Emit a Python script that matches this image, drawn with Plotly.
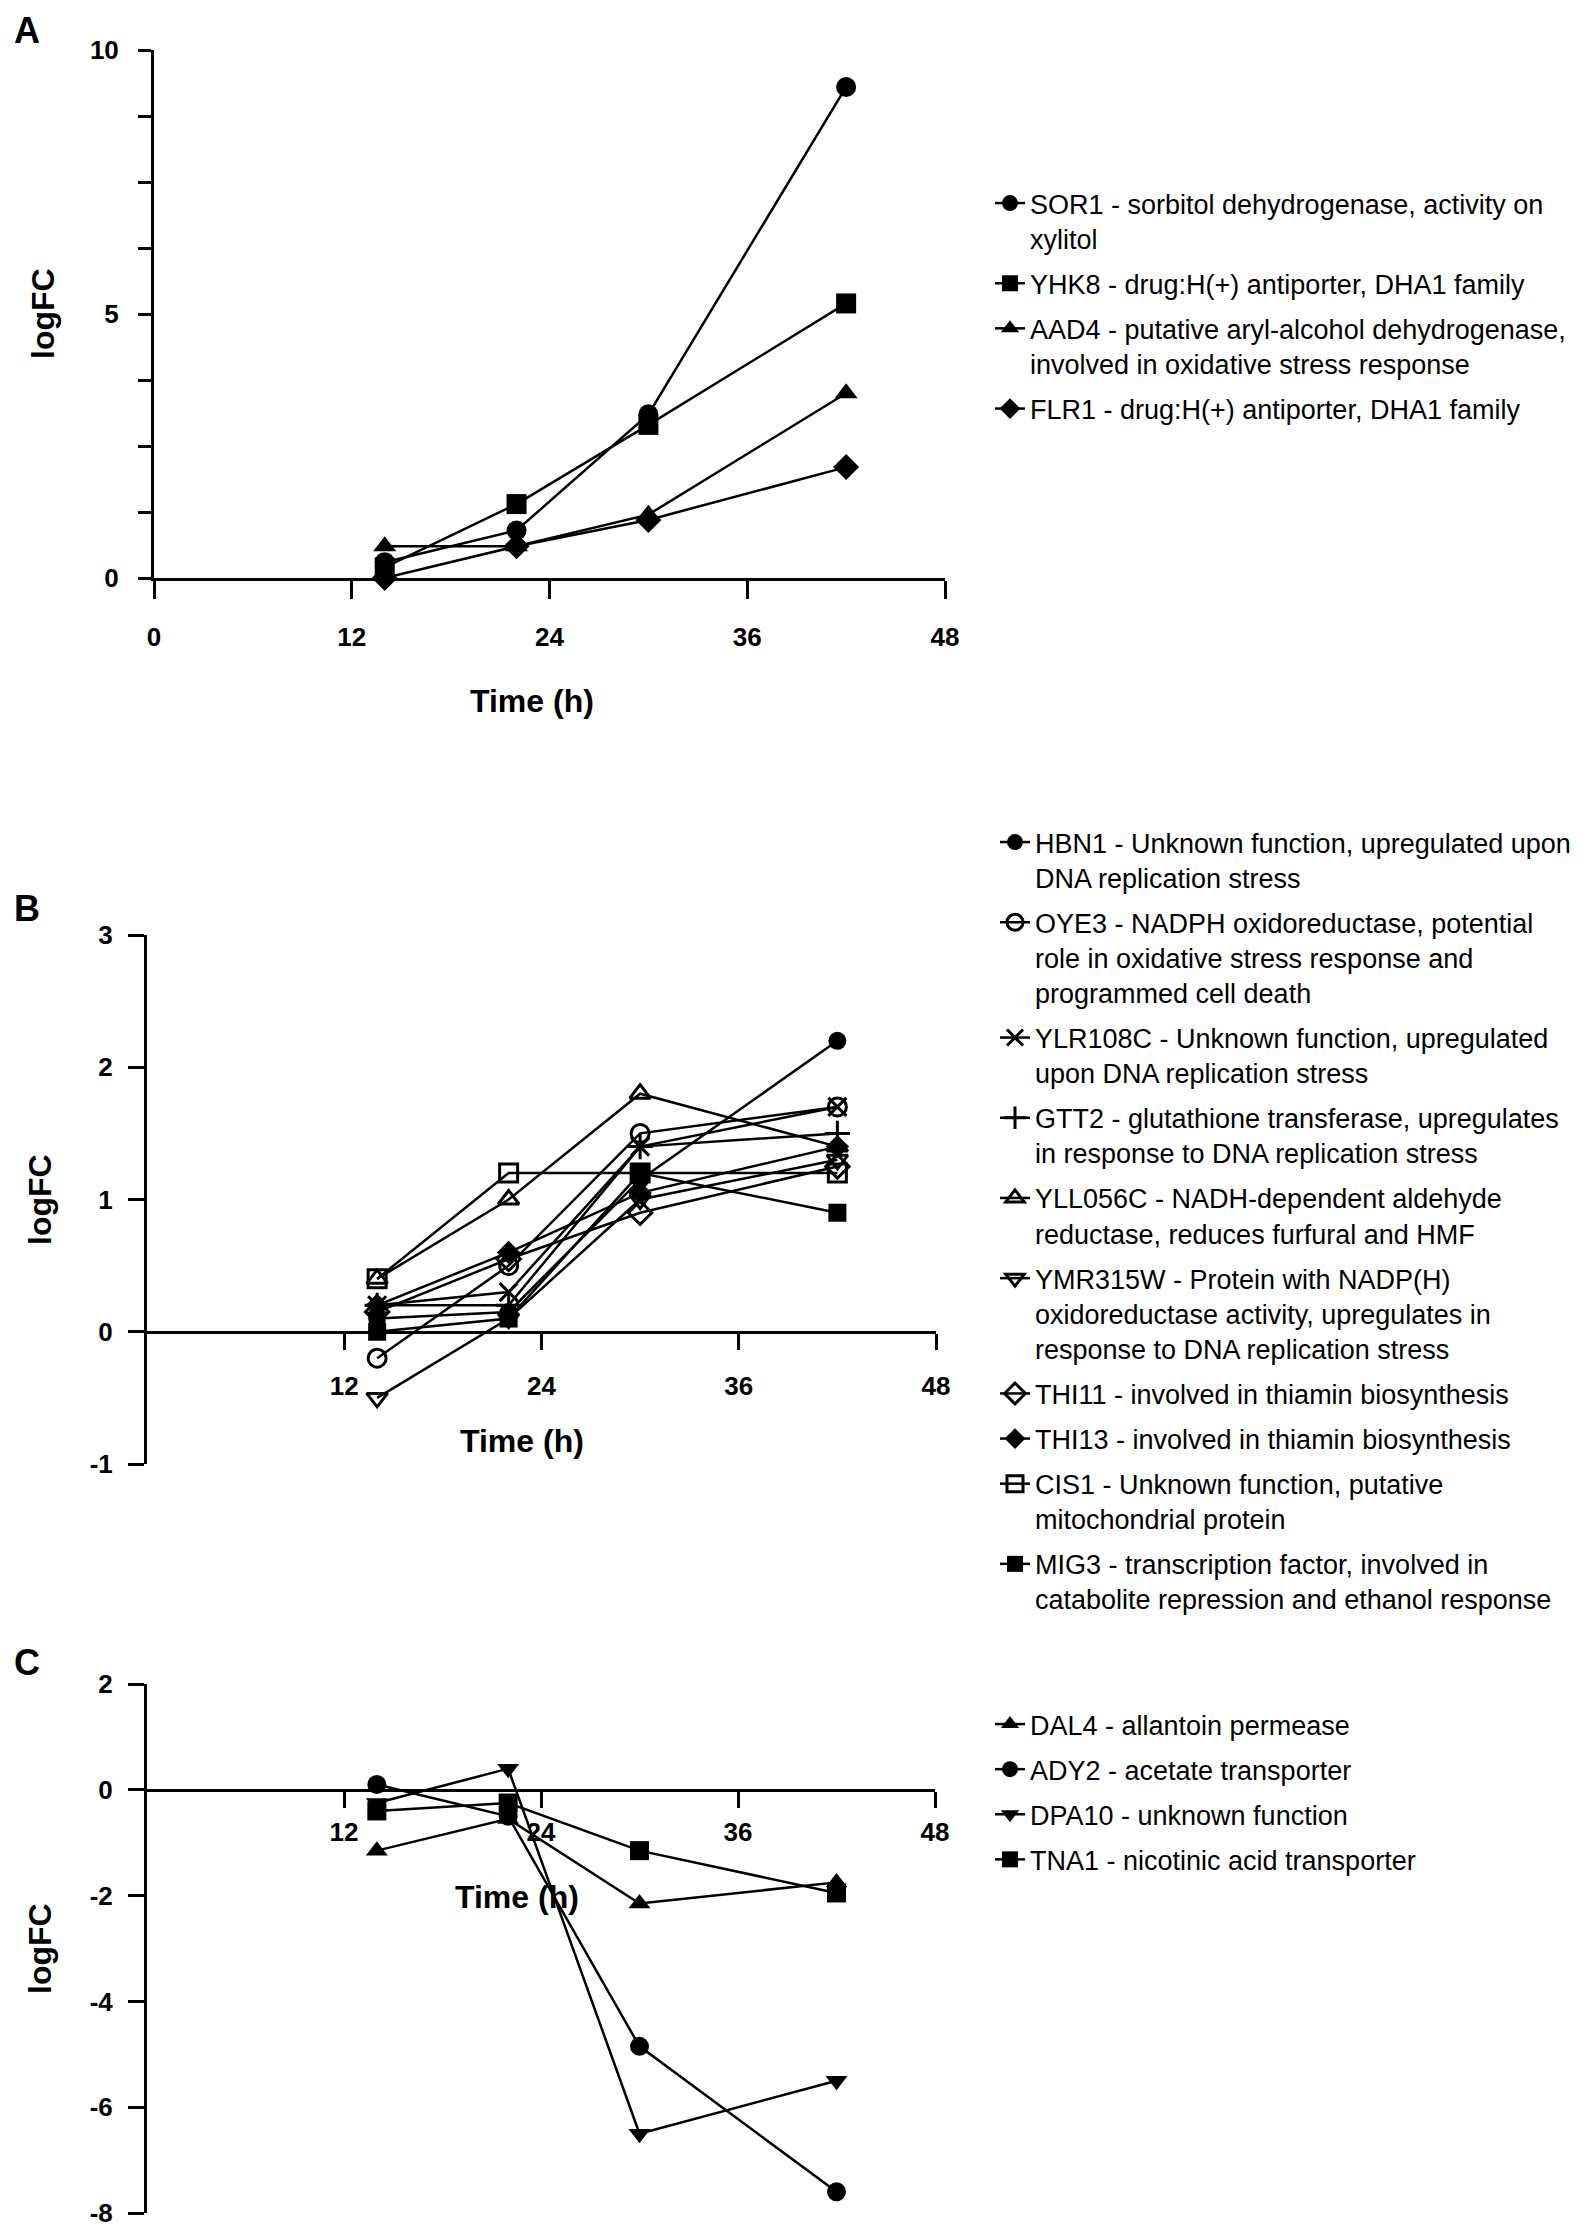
import plotly.graph_objects as go

# page size and default body margin of the written html page
PAGE_W, PAGE_H = 1594, 2237
BODY = 8
W, H = PAGE_W - 2 * BODY, PAGE_H - 2 * BODY

# ---------------- data ----------------
time_h = [14, 22, 30, 42]

# Panel A
a_labels = [
    "SOR1 - sorbitol dehydrogenase, activity on<br>xylitol",
    "YHK8 - drug:H(+) antiporter, DHA1 family",
    "AAD4 - putative aryl-alcohol dehydrogenase,<br>involved in oxidative stress response",
    "FLR1 - drug:H(+) antiporter, DHA1 family",
]
a_symbols = ["circle", "square", "triangle-up", "diamond"]
a_sor1 = [0.3, 0.9, 3.1, 9.3]
a_yhk8 = [0.2, 1.4, 2.9, 5.2]
a_aad4 = [0.6, 0.6, 1.2, 3.5]
a_flr1 = [0.0, 0.6, 1.1, 2.1]
a_values = [a_sor1, a_yhk8, a_aad4, a_flr1]

# Panel B
b_labels = [
    "HBN1 - Unknown function, upregulated upon<br>DNA replication stress",
    "OYE3 - NADPH oxidoreductase, potential<br>role in oxidative stress response and<br>programmed cell death",
    "YLR108C - Unknown function, upregulated<br>upon DNA replication stress",
    "GTT2 - glutathione transferase, upregulates<br>in response to DNA replication stress",
    "YLL056C - NADH-dependent aldehyde<br>reductase, reduces furfural and HMF",
    "YMR315W - Protein with NADP(H)<br>oxidoreductase activity, upregulates in<br>response to DNA replication stress",
    "THI11 - involved in thiamin biosynthesis",
    "THI13 - involved in thiamin biosynthesis",
    "CIS1 - Unknown function, putative<br>mitochondrial protein",
    "MIG3 - transcription factor, involved in<br>catabolite repression and ethanol response",
]
b_symbols = ["circle", "circle-open", "x-thin-open", "cross-thin-open", "triangle-up-open",
             "triangle-down-open", "diamond-open", "diamond", "square-open", "square"]
b_hbn1 = [0.1, 0.15, 1.15, 2.2]
b_oye3 = [-0.2, 0.5, 1.5, 1.7]
b_ylr108c = [0.2, 0.3, 1.4, 1.7]
b_gtt2 = [0.2, 0.2, 1.4, 1.5]
b_yll056c = [0.4, 1.0, 1.8, 1.4]
b_ymr315w = [-0.5, 0.1, 1.0, 1.3]
b_thi11 = [0.15, 0.55, 0.9, 1.25]
b_thi13 = [0.2, 0.6, 1.05, 1.4]
b_cis1 = [0.4, 1.2, 1.2, 1.2]
b_mig3 = [0.0, 0.1, 1.2, 0.9]
b_values = [b_hbn1, b_oye3, b_ylr108c, b_gtt2, b_yll056c,
            b_ymr315w, b_thi11, b_thi13, b_cis1, b_mig3]

# Panel C
c_labels = [
    "DAL4 - allantoin permease",
    "ADY2 - acetate transporter",
    "DPA10 - unknown function",
    "TNA1 - nicotinic acid transporter",
]
c_symbols = ["triangle-up", "circle", "triangle-down", "square"]
c_dal4 = [-1.15, -0.55, -2.15, -1.75]
c_ady2 = [0.1, -0.5, -4.85, -7.6]
c_dpa10 = [-0.25, 0.4, -6.5, -5.5]
c_tna1 = [-0.4, -0.25, -1.15, -1.95]
c_values = [c_dal4, c_ady2, c_dpa10, c_tna1]

# tick values / labels
xa_ticks = [0, 12, 24, 36, 48]
xbc_ticks = [12, 24, 36, 48]
ya_ticks = [0, 5, 10]
yb_ticks = [-1, 0, 1, 2, 3]
yc_ticks = [-8, -6, -4, -2, 0, 2]
ya_minor = [1.25, 2.5, 3.75, 6.25, 7.5, 8.75]


def tick_text(vals):
    return [str(v) for v in vals]


# ---------------- layout helpers (page pixels -> paper fractions) ----------------
def px(x):
    return (x - BODY) / W


def py(y):
    return 1 - (y - BODY) / H


def xdom(left, right):
    return [px(left), px(right)]


def ydom(top, bottom):
    return [py(bottom), py(top)]


def zero_pos(dom, rng):
    return dom[0] + (0 - rng[0]) / (rng[1] - rng[0]) * (dom[1] - dom[0])


FONT = "Liberation Sans, Arial, Helvetica, sans-serif"
TICKFONT = dict(family=FONT, size=26, color="black", weight=700)

axis_common = dict(
    showline=True, linewidth=3, linecolor="black", mirror=False,
    ticks="outside", tickwidth=3, ticklen=13, tickcolor="black",
    showgrid=False, zeroline=False, tickfont=TICKFONT, fixedrange=True,
)

xa_dom = xdom(154, 945)
ya_dom = ydom(50, 578)
xb_dom = xdom(147, 936)
yb_dom = ydom(935, 1464)
xc_dom = xdom(147, 935)
yc_dom = ydom(1684, 2213)

xa_rng = [0, 48]
ya_rng = [0, 10]
yb_rng = [-1, 3]
yc_rng = [-8, 2]

fig = go.Figure()

panels = [
    (a_labels, a_symbols, a_values, "x", "y", "legend", 20),
    (b_labels, b_symbols, b_values, "x2", "y2", "legend2", 18),
    (c_labels, c_symbols, c_values, "x3", "y3", "legend3", 19),
]
for labels, symbols, values, xr, yr, lg, msize in panels:
    for i, (lab, sym, vals) in enumerate(zip(labels, symbols, values)):
        fig.add_trace(go.Scatter(
            x=time_h, y=vals, name=lab, xaxis=xr, yaxis=yr, legend=lg,
            legendgroup=f"{lg}_{i}",
            mode="lines+markers", cliponaxis=False,
            line=dict(color="black", width=2.5),
            marker=dict(symbol=sym, size=msize, color="black",
                        line=dict(color="black", width=3 if "open" in sym else 0)),
        ))

fig.update_layout(
    width=W, height=H, margin=dict(l=0, r=0, t=0, b=0, autoexpand=False),
    paper_bgcolor="white", plot_bgcolor="white",
    font=dict(family=FONT, color="black"),
    showlegend=True,
    xaxis=dict(axis_common, domain=xa_dom, anchor="y", range=xa_rng,
               tickvals=xa_ticks, ticktext=tick_text(xa_ticks),
               ticklen=18, ticklabelstandoff=16),
    yaxis=dict(axis_common, domain=ya_dom, anchor="x", range=ya_rng,
               tickvals=ya_ticks, ticktext=tick_text(ya_ticks), ticklabelstandoff=14,
               minor=dict(tickvals=ya_minor, ticks="outside", ticklen=13,
                          tickwidth=3, tickcolor="black", showgrid=False)),
    xaxis2=dict(axis_common, domain=xb_dom, anchor="free",
                position=zero_pos(yb_dom, yb_rng), range=xa_rng,
                tickvals=xbc_ticks, ticktext=tick_text(xbc_ticks),
                ticklen=16, ticklabelstandoff=14),
    yaxis2=dict(axis_common, domain=yb_dom, anchor="x2", range=yb_rng,
                tickvals=yb_ticks, ticktext=tick_text(yb_ticks),
                ticklen=16, ticklabelstandoff=10),
    xaxis3=dict(axis_common, domain=xc_dom, anchor="free",
                position=zero_pos(yc_dom, yc_rng), range=xa_rng,
                tickvals=xbc_ticks, ticktext=tick_text(xbc_ticks),
                ticklen=16, ticklabelstandoff=2),
    yaxis3=dict(axis_common, domain=yc_dom, anchor="x3", range=yc_rng,
                tickvals=yc_ticks, ticktext=tick_text(yc_ticks),
                ticklen=16, ticklabelstandoff=10),
)

leg_common = dict(
    xanchor="left", yanchor="top", valign="top",
    font=dict(family=FONT, size=27, color="black"),
    bgcolor="rgba(0,0,0,0)", borderwidth=0, itemwidth=30,
    tracegroupgap=7, traceorder="grouped",
    itemclick=False, itemdoubleclick=False,
)
fig.update_layout(
    legend=dict(leg_common, x=px(990), y=py(179)),
    legend2=dict(leg_common, x=px(995), y=py(818)),
    legend3=dict(leg_common, x=px(990), y=py(1700)),
)


# ---------------- text annotations ----------------
def ann(text, x, y, size, angle=0):
    return dict(text=text, x=px(x), y=py(y), xref="paper", yref="paper",
                showarrow=False, textangle=angle, xanchor="center", yanchor="middle",
                font=dict(family=FONT, size=size, color="black", weight=700))


fig.update_layout(annotations=[
    ann("A", 27, 30, 36),
    ann("B", 27, 909, 36),
    ann("C", 27, 1662, 36),
    ann("logFC", 43, 314, 32, -90),
    ann("logFC", 40, 1199, 32, -90),
    ann("logFC", 40, 1948, 32, -90),
    ann("Time (h)", 532, 701, 32),
    ann("Time (h)", 522, 1441, 32),
    ann("Time (h)", 517, 1897, 32),
])

fig.write_html("out.html")
